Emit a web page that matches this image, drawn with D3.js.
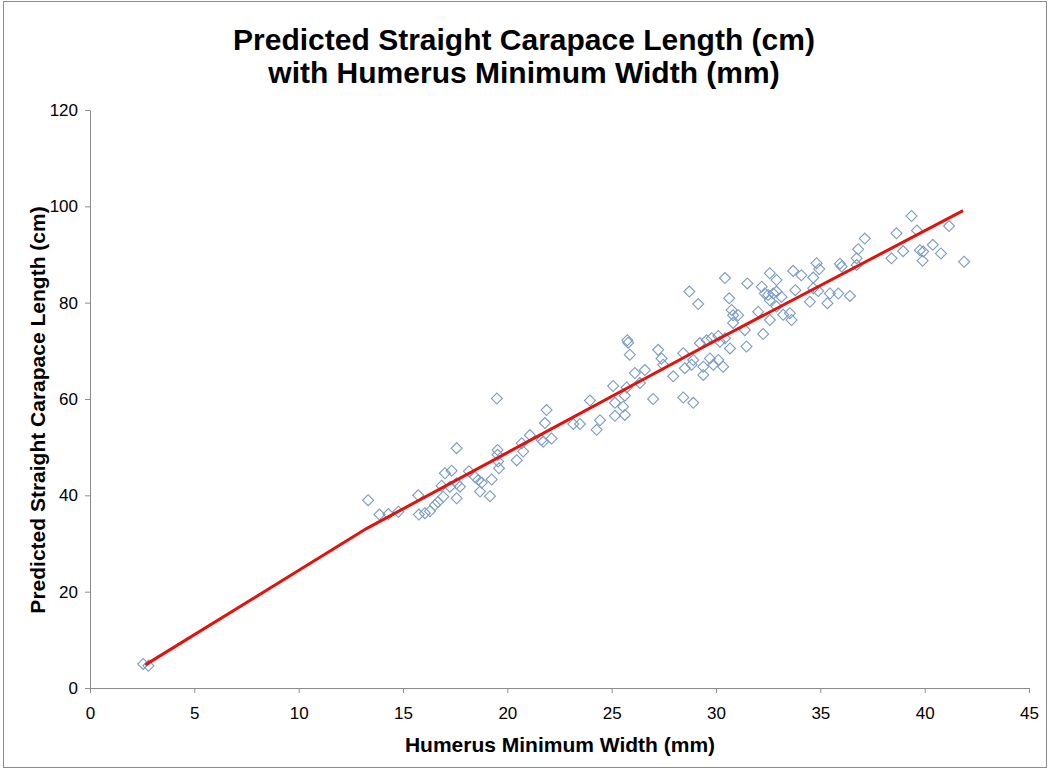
<!DOCTYPE html>
<html lang="en">
<head>
<meta charset="utf-8" />
<title>Predicted SCL vs Humerus Minimum Width</title>
<script src="https://cdn.jsdelivr.net/npm/d3@7"></script>
<style>
  body { margin: 0; background: #fff; }
  text { font-family: "Liberation Sans", Arial, sans-serif; }
  .axis path, .axis line { stroke: #8c8c8c; }
  .axis text { font-size: 17px; fill: #000; }
</style>
</head>
<body>
<script>
  // DATA
  // observed points (humerus minimum width mm, straight carapace length cm)
  var humerusWidth = [
    2.55, 2.8,
    13.33, 13.87, 14.30, 14.78, 15.73, 15.76, 16.05, 16.29, 16.53, 16.67, 16.93, 17.01, 17.33, 17.57,
    17.57, 17.25, 16.85, 17.57, 17.73, 18.16, 18.45, 18.61, 18.77, 18.69, 19.17, 19.25, 19.50, 19.53,
    19.53, 19.56, 19.60,
    20.45, 20.76, 20.69, 21.08, 21.64, 21.72, 22.12, 21.80, 21.88, 23.16, 23.48, 23.96, 24.28, 24.44,
    25.07, 25.16, 25.16, 25.55, 25.63, 25.63, 25.72, 25.79, 25.87, 25.75, 26.11, 26.35, 26.59, 26.99,
    28.72, 29.15, 30.43, 30.63, 30.75, 30.82, 31.06, 30.82, 31.50, 32.19, 32.34, 32.50, 32.58, 32.90,
    32.02, 32.58, 31.38, 32.26, 31.46, 30.67, 30.19, 29.79, 29.55, 29.23, 29.71, 30.11, 30.34, 29.87,
    29.39, 29.39, 28.91, 28.83, 28.43, 28.51, 27.95, 27.47, 27.23, 27.39, 28.43, 28.91, 30.11, 30.43,
    39.37, 38.65, 39.63, 38.97, 38.41, 39.77, 39.93, 39.90, 40.39, 40.78, 41.17, 41.89, 37.13, 36.81,
    36.74, 36.74, 35.94, 36.02, 34.82, 34.95, 33.70, 34.09, 34.66, 32.90, 33.80, 34.66, 34.90, 35.46,
    35.86, 36.42, 35.34, 34.50, 33.14, 32.74, 32.58, 32.90, 33.22, 33.54, 33.62
  ];
  var carapaceLength = [
    5.0, 4.6,
    39.0, 36.0, 36.1, 36.6, 40.0, 36.0, 36.3, 36.7, 38.0, 38.6, 39.7, 44.6, 45.1, 49.8,
    39.4, 41.8, 42.0, 42.5, 41.8, 45.0, 43.8, 43.2, 42.6, 40.8, 39.8, 43.3, 60.1, 49.4,
    48.4, 47.0, 45.6,
    47.3, 49.1, 50.8, 52.5, 51.5, 51.1, 51.8, 55.0, 57.7, 54.8, 54.8, 59.7, 53.6, 55.6,
    62.7, 59.2, 56.5, 58.4, 56.7, 60.7, 62.4, 71.7, 69.2, 72.2, 65.4, 63.3, 66.0, 60.0,
    82.3, 79.7, 85.1, 80.9, 78.5, 77.4, 77.4, 75.8, 84.0, 83.3, 81.9, 81.6, 86.1, 82.3,
    78.1, 76.4, 74.3, 73.5, 70.9, 70.5, 71.9, 72.6, 72.2, 71.6, 68.4, 68.1, 66.7, 67.1,
    66.7, 65.0, 68.1, 67.1, 69.5, 66.4, 64.7, 67.1, 70.2, 68.4, 60.3, 59.2, 73.1, 72.6,
    98.0, 94.4, 95.0, 90.7, 89.2, 90.9, 90.6, 88.7, 92.0, 90.2, 95.9, 88.5, 93.3, 91.1,
    89.2, 87.8, 88.1, 87.5, 88.2, 87.0, 86.6, 85.7, 85.2, 84.7, 82.6, 83.0, 82.4, 81.9,
    81.9, 81.4, 79.9, 80.2, 81.2, 81.9, 80.5, 79.2, 77.5, 77.8, 76.4
  ];

  // predicted line
  var predWidth  = [2.65, 13.25, 30.0, 41.84];
  var predLength = [4.8, 33.1, 72.2, 99.1];

  var xTicks = [0, 5, 10, 15, 20, 25, 30, 35, 40, 45];
  var yTicks = [0, 20, 40, 60, 80, 100, 120];

  var titleLines = ["Predicted Straight Carapace Length (cm)", "with Humerus Minimum Width (mm)"];
  var xTitle = "Humerus Minimum Width (mm)";
  var yTitle = "Predicted Straight Carapace Length (cm)";

  // CONFIG
  var width = 1049, height = 770;
  var plot = {left: 90, right: 1029, top: 110, bottom: 688};

  var svg = d3.select("body").append("svg")
      .attr("width", width)
      .attr("height", height);

  // outer frame
  svg.append("rect")
      .attr("x", 3.5).attr("y", 1.5)
      .attr("width", width - 6).attr("height", height - 4)
      .attr("fill", "none")
      .attr("stroke", "#8c8c8c");

  var x = d3.scaleLinear().domain([0, 45]).range([plot.left, plot.right]);
  var y = d3.scaleLinear().domain([0, 120]).range([plot.bottom, plot.top]);

  // axes
  svg.append("g")
      .attr("class", "axis")
      .attr("transform", `translate(0,${plot.bottom})`)
      .call(d3.axisBottom(x).tickValues(xTicks).tickSize(5).tickSizeOuter(0).tickPadding(14));

  svg.append("g")
      .attr("class", "axis")
      .attr("transform", `translate(${plot.left},0)`)
      .call(d3.axisLeft(y).tickValues(yTicks).tickSize(5).tickSizeOuter(0).tickPadding(7));

  // titles
  svg.append("text")
      .attr("x", 524).attr("y", 50)
      .attr("text-anchor", "middle")
      .style("font-size", "30px").style("font-weight", "bold")
      .selectAll("tspan")
      .data(titleLines).enter()
      .append("tspan")
        .attr("x", 524)
        .attr("dy", (d, i) => i === 0 ? 0 : 33)
        .text((d) => d);

  svg.append("text")
      .attr("x", 560).attr("y", 752)
      .attr("text-anchor", "middle")
      .style("font-size", "21px").style("font-weight", "bold")
      .text(xTitle);

  svg.append("text")
      .attr("transform", "translate(45,410) rotate(-90)")
      .attr("text-anchor", "middle")
      .style("font-size", "21px").style("font-weight", "bold")
      .text(yTitle);

  // observed points, hollow diamonds
  var pts = humerusWidth.map((w, i) => ({w: w, l: carapaceLength[i]}));
  var diamond = d3.symbol().type(d3.symbolSquare).size(60);

  svg.append("g").selectAll("path")
      .data(pts).enter()
      .append("path")
        .attr("d", diamond)
        .attr("transform", (d) => `translate(${x(d.w)},${y(d.l)}) rotate(45)`)
        .attr("fill", "none")
        .attr("stroke", "#7a9bc8")
        .attr("stroke-width", 1.1);

  // predicted line
  var line = d3.line()
      .x((d) => x(d[0]))
      .y((d) => y(d[1]));

  svg.append("path")
      .datum(predWidth.map((w, i) => [w, predLength[i]]))
      .attr("d", line)
      .attr("fill", "none")
      .attr("stroke", "#e3120b")
      .attr("stroke-width", 3);
</script>
</body>
</html>
